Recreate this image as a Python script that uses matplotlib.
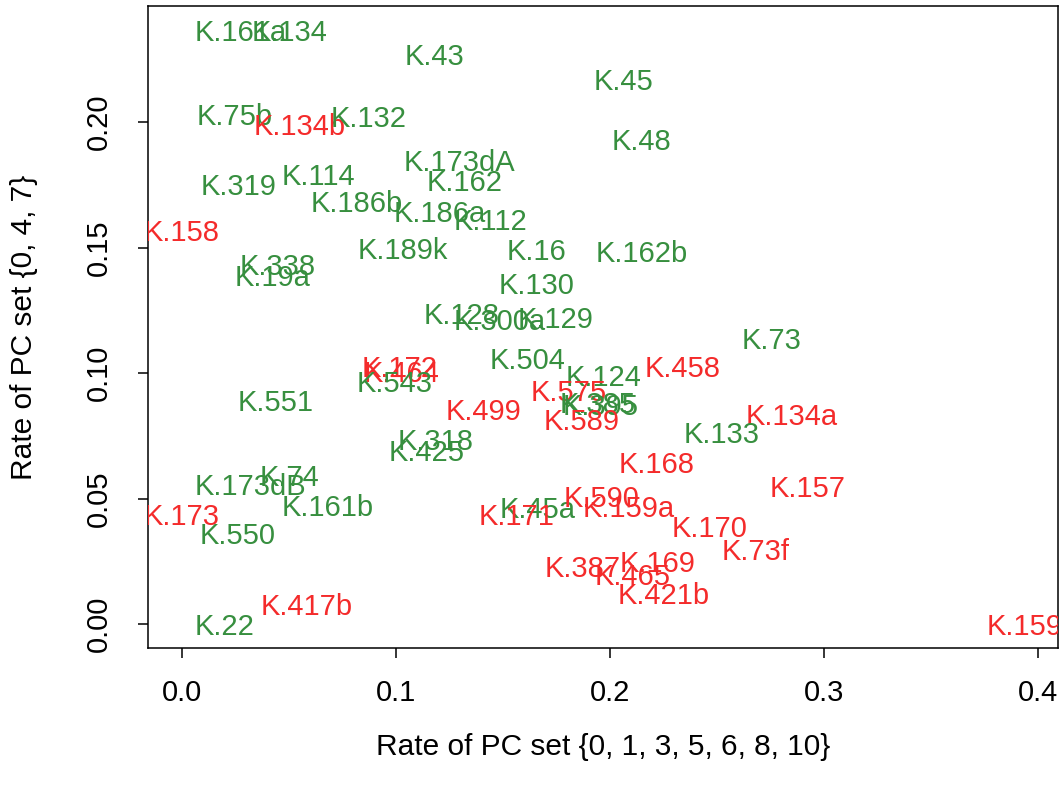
import matplotlib
matplotlib.use("Agg")
import matplotlib.pyplot as plt

plt.rcParams['font.family'] = ['Liberation Sans', 'DejaVu Sans']

labels = ["K.161a", "K.134", "K.43", "K.45", "K.75b", "K.134b", "K.132", "K.48",
          "K.173dA", "K.162", "K.319", "K.114", "K.186b", "K.186a", "K.112", "K.158",
          "K.189k", "K.16", "K.162b", "K.338", "K.19a", "K.130", "K.128", "K.300a",
          "K.129", "K.73", "K.504", "K.172", "K.464", "K.543", "K.124", "K.458",
          "K.551", "K.575", "K.385", "K.395", "K.499", "K.589", "K.134a", "K.133",
          "K.318", "K.425", "K.168", "K.74", "K.173dB", "K.157", "K.161b", "K.45a",
          "K.590", "K.159a", "K.171", "K.173", "K.170", "K.550", "K.73f", "K.169",
          "K.387", "K.465", "K.421b", "K.417b", "K.22", "K.159"]
x_vals = [0.0276, 0.0505, 0.1182, 0.2061, 0.0248, 0.0551, 0.0874, 0.2145,
          0.1299, 0.1322, 0.0266, 0.0640, 0.0818, 0.1206, 0.1444, 0.0000,
          0.1033, 0.1659, 0.2150, 0.0449, 0.0425, 0.1659, 0.1308, 0.1486,
          0.1748, 0.2757, 0.1617, 0.1019, 0.1028, 0.0995, 0.1972, 0.2341,
          0.0439, 0.1808, 0.1944, 0.1958, 0.1411, 0.1869, 0.2850, 0.2523,
          0.1187, 0.1145, 0.2220, 0.0505, 0.0322, 0.2925, 0.0682, 0.1664,
          0.1963, 0.2089, 0.1565, 0.0000, 0.2467, 0.0262, 0.2682, 0.2220,
          0.1874, 0.2107, 0.2252, 0.0584, 0.0201, 0.3935]
y_vals = [0.2367, 0.2367, 0.2271, 0.2171, 0.2032, 0.1992, 0.2024, 0.1932,
          0.1849, 0.1769, 0.1753, 0.1793, 0.1685, 0.1645, 0.1614, 0.1570,
          0.1498, 0.1494, 0.1486, 0.1434, 0.1390, 0.1359, 0.1239, 0.1215,
          0.1223, 0.1139, 0.1060, 0.1028, 0.1008, 0.0968, 0.0992, 0.1028,
          0.0892, 0.0932, 0.0884, 0.0876, 0.0857, 0.0817, 0.0837, 0.0765,
          0.0737, 0.0693, 0.0645, 0.0594, 0.0558, 0.0550, 0.0474, 0.0466,
          0.0510, 0.0470, 0.0438, 0.0438, 0.0390, 0.0363, 0.0299, 0.0251,
          0.0231, 0.0199, 0.0124, 0.0080, 0.0000, 0.0000]
groups = ["g", "g", "g", "g", "g", "r", "g", "g",
          "g", "g", "g", "g", "g", "g", "g", "r",
          "g", "g", "g", "g", "g", "g", "g", "g",
          "g", "g", "g", "r", "r", "g", "g", "r",
          "g", "r", "g", "g", "r", "r", "r", "g",
          "g", "g", "r", "g", "g", "r", "g", "g",
          "r", "r", "r", "r", "r", "g", "r", "r",
          "r", "r", "r", "r", "g", "r"]
x_ticks = [0.0, 0.1, 0.2, 0.3, 0.4]
x_ticklabels = ["0.0", "0.1", "0.2", "0.3", "0.4"]
y_ticks = [0.00, 0.05, 0.10, 0.15, 0.20]
y_ticklabels = ["0.00", "0.05", "0.10", "0.15", "0.20"]

colors = {"g": "#378f3f", "r": "#f42b2b"}

fig = plt.figure(figsize=(10.6, 7.95), dpi=100)
ax = fig.add_axes([148/1060, 1 - 648/795, (1058-148)/1060, (648-6)/795])

xmin, xmax = min(x_vals), max(x_vals)
ymin, ymax = min(y_vals), max(y_vals)
dx = (xmax - xmin) * 0.04
dy = (ymax - ymin) * 0.04
ax.set_xlim(xmin - dx, xmax + dx)
ax.set_ylim(ymin - dy, ymax + dy)

for lab, xv, yv, g in zip(labels, x_vals, y_vals, groups):
    ax.text(xv, yv, lab, color=colors[g], fontsize=21, ha='center',
            va='center_baseline', clip_on=True)

ax.set_xticks(x_ticks)
ax.set_xticklabels(x_ticklabels)
ax.set_yticks(y_ticks)
ax.set_yticklabels(y_ticklabels, rotation=90, va='center')
ax.tick_params(axis='both', labelsize=21, length=7.5, width=1.1, direction='out')
ax.tick_params(axis='x', pad=15)
ax.tick_params(axis='y', pad=18)
for s in ax.spines.values():
    s.set_linewidth(1.1)

fig.text(603/1060, 1 - 747/795, "Rate of PC set {0, 1, 3, 5, 6, 8, 10}",
         fontsize=21.5, ha='center', va='center')
fig.text(24/1060, 1 - 327/795, "Rate of PC set {0, 4, 7}",
         fontsize=21.5, ha='center', va='center', rotation=90)

fig.savefig("out.png", dpi=100)
